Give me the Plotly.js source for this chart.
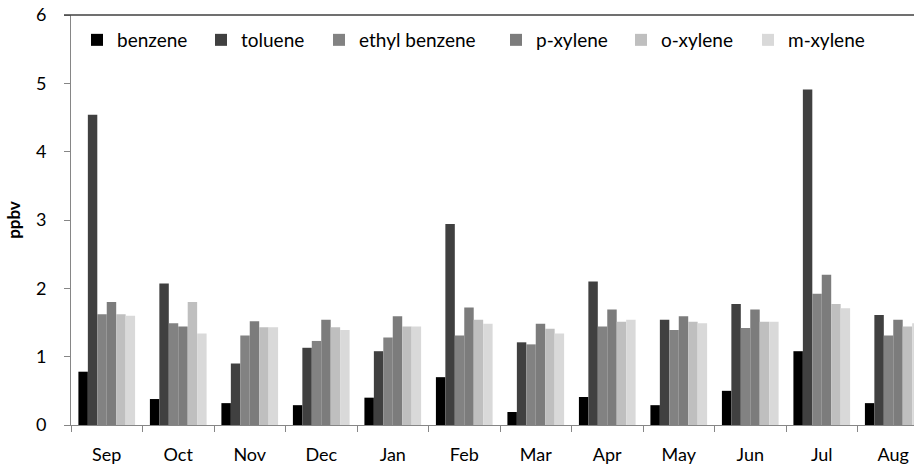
<!DOCTYPE html>
<html>
<head>
<meta charset="utf-8">
<script src="https://cdn.plot.ly/plotly-3.0.1.min.js"></script>
<style>
  html, body { margin: 0; padding: 0; background: #fff; overflow: hidden; }
  #chart { width: 914px; height: 467px; }
</style>
</head>
<body>
<div id="chart"></div>
<script>
const months = ["Sep","Oct","Nov","Dec","Jan","Feb","Mar","Apr","May","Jun","Jul","Aug"];
const benzene      = [0.78, 0.38, 0.32, 0.29, 0.40, 0.70, 0.19, 0.41, 0.29, 0.50, 1.08, 0.32];
const toluene      = [4.54, 2.07, 0.90, 1.13, 1.08, 2.94, 1.21, 2.10, 1.54, 1.77, 4.91, 1.61];
const ethylBenzene = [1.62, 1.49, 1.31, 1.23, 1.28, 1.31, 1.18, 1.44, 1.39, 1.42, 1.92, 1.31];
const pXylene      = [1.80, 1.44, 1.52, 1.54, 1.59, 1.72, 1.48, 1.69, 1.59, 1.69, 2.20, 1.54];
const oXylene      = [1.62, 1.80, 1.43, 1.43, 1.44, 1.54, 1.41, 1.51, 1.51, 1.51, 1.77, 1.44];
const mXylene      = [1.60, 1.34, 1.43, 1.39, 1.44, 1.48, 1.34, 1.54, 1.49, 1.51, 1.71, 1.49];
const yTicks = [0, 1, 2, 3, 4, 5, 6];

const seriesNames  = ["benzene", "toluene", "ethyl benzene", "p-xylene", "o-xylene", "m-xylene"];
const seriesValues = [benzene, toluene, ethylBenzene, pXylene, oXylene, mXylene];
const seriesColors = ["#000000", "#404040", "#828282", "#7c7c7c", "#bfbfbf", "#d9d9d9"];
const legendIds    = ["legend", "legend2", "legend3", "legend4", "legend5", "legend6"];

const traces = seriesNames.map((name, i) => ({
  type: "bar",
  name: name,
  x: months,
  y: seriesValues[i],
  marker: { color: seriesColors[i], line: { width: 0 } },
  legend: legendIds[i],
  hoverinfo: "x+y+name"
}));

const fontFam = "Lato, 'Open Sans', sans-serif";
const plotLeft = 71, plotW = 843;
const legendPx = [77, 201, 319, 496, 621, 748];

const layout = {
  width: 914,
  height: 467,
  margin: { l: 71, r: 0, t: 15, b: 42 },
  paper_bgcolor: "#ffffff",
  plot_bgcolor: "#ffffff",
  barmode: "group",
  bargap: 0.207,
  bargroupgap: 0,
  font: { family: fontFam, color: "#000000", size: 18 },
  xaxis: {
    type: "category",
    range: [-0.5, 11.29],
    showline: true,
    linecolor: "#868686",
    linewidth: 1,
    ticks: "outside",
    tickson: "boundaries",
    ticklen: 6,
    tickcolor: "#868686",
    showgrid: false,
    zeroline: false,
    ticklabelstandoff: 13,
    tickfont: { family: fontFam, size: 18, color: "#000000" },
    fixedrange: true
  },
  yaxis: {
    range: [0, 6],
    tickvals: yTicks,
    ticktext: yTicks.map(String),
    showline: true,
    linecolor: "#868686",
    linewidth: 1,
    ticks: "outside",
    ticklen: 6,
    tickcolor: "#868686",
    showgrid: false,
    zeroline: false,
    ticklabelstandoff: 14,
    tickfont: { family: fontFam, size: 18, color: "#000000" },
    title: { text: "<b>ppbv</b>", font: { family: fontFam, size: 17, color: "#000000" }, standoff: 10 },
    fixedrange: true
  },
  shapes: [{
    type: "line", xref: "paper", yref: "paper",
    x0: (64 - plotLeft) / plotW, x1: 1, y0: 1, y1: 1,
    line: { color: "#404040", width: 1.5 }
  }],
  showlegend: true
};

legendIds.forEach((id, i) => {
  layout[id] = {
    x: (legendPx[i] - plotLeft) / plotW,
    xanchor: "left",
    y: (425 - 40) / 410,
    yanchor: "middle",
    orientation: "h",
    bgcolor: "rgba(0,0,0,0)",
    borderwidth: 0,
    itemwidth: 30,
    font: { family: fontFam, size: 19, color: "#000000" }
  };
});

Plotly.newPlot("chart", traces, layout, { displayModeBar: false, staticPlot: true });
</script>
</body>
</html>
